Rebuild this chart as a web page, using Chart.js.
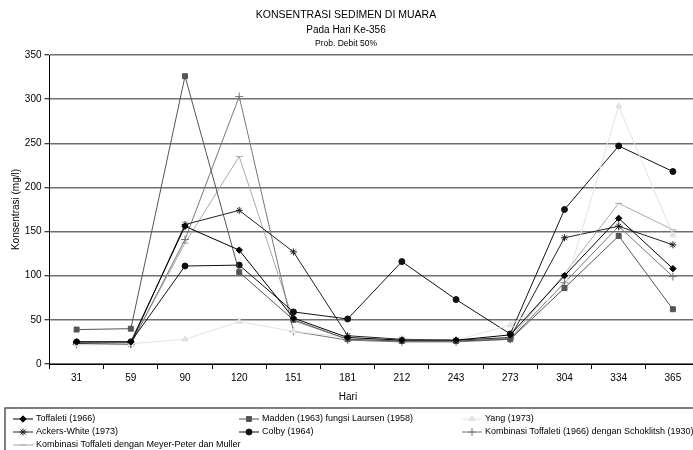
<!DOCTYPE html>
<html>
<head>
  <title>Konsentrasi Sedimen di Muara</title>
  <script src="https://cdn.jsdelivr.net/npm/chart.js@4.4.1/dist/chart.umd.min.js"></script>
  <style>
    html, body {
      margin: 0;
      padding: 0;
      background: #fff;
      overflow: hidden;
    }
    #wrap {
      width: 705px;
      height: 450px;
    }
  </style>
</head>
<body>
  <div id="wrap">
    <canvas id="chart" width="705" height="450"></canvas>
  </div>
  <script>
    // Data
    var days = ['31', '59', '90', '120', '151', '181', '212', '243', '273', '304', '334', '365'];
    var toffaleti = [25, 25, 156, 129, 52, 30, 27, 27, 33, 100, 165, 108];
    var madden = [39, 40, 326, 104, 50, 28, 26, 26, 28, 86, 145, 62];
    var yang = [22, 23, 28, 48, 37, 30, 27, 27, 44, 85, 292, 146];
    var ackers = [23, 23, 158, 174, 127, 32, 28, 27, 30, 143, 156, 135];
    var colby = [25, 25, 111, 112, 59, 51, 116, 73, 34, 175, 247, 218];
    var schoklitsh = [22, 22, 141, 303, 37, 27, 25, 25, 28, 92, 156, 99];
    var meyer = [23, 23, 137, 235, 49, 28, 26, 26, 29, 102, 182, 152];

    var seriesNames = [
      'Toffaleti (1966)',
      'Madden (1963) fungsi Laursen (1958)',
      'Yang (1973)',
      'Ackers-White (1973)',
      'Colby (1964)',
      'Kombinasi Toffaleti (1966) dengan Schoklitsh (1930)',
      'Kombinasi Toffaleti dengan Meyer-Peter dan Muller'
    ];

    var titleLines = ['KONSENTRASI SEDIMEN DI MUARA', 'Pada Hari Ke-356', 'Prob. Debit 50%'];
    var xTitle = 'Hari';
    var yTicks = [0, 50, 100, 150, 200, 250, 300, 350];

    var FONT = '"Liberation Sans", Arial, sans-serif';

    function makeSet(label, data, color, style, radius, fill) {
      return {
        label: label,
        data: data,
        borderColor: color,
        backgroundColor: fill || color,
        borderWidth: 1,
        pointStyle: style,
        pointRadius: radius,
        pointBorderColor: color,
        pointBackgroundColor: fill || color,
        pointBorderWidth: 1,
        tension: 0
      };
    }

    var datasets = [
      makeSet(seriesNames[0], toffaleti, '#000000', 'rectRot', 3.2),
      makeSet(seriesNames[1], madden, '#555555', 'rect', 3.5),
      makeSet(seriesNames[2], yang, '#e2e2e2', 'triangle', 3.5),
      makeSet(seriesNames[3], ackers, '#222222', 'star', 3.5),
      makeSet(seriesNames[4], colby, '#111111', 'circle', 3),
      makeSet(seriesNames[5], schoklitsh, '#777777', 'cross', 4),
      makeSet(seriesNames[6], meyer, '#aaaaaa', 'line', 3.5)
    ];

    // titles, x axis title and the boxed three-column legend are drawn by hand
    var decorPlugin = {
      id: 'decor',
      afterDraw: function(chart) {
        var ctx = chart.ctx;
        ctx.save();
        ctx.fillStyle = '#000';
        ctx.textAlign = 'center';
        ctx.textBaseline = 'middle';
        ctx.font = '10.5px ' + FONT;
        ctx.fillText(titleLines[0], 346, 15);
        ctx.font = '10px ' + FONT;
        ctx.fillText(titleLines[1], 346, 30);
        ctx.font = '8.5px ' + FONT;
        ctx.fillText(titleLines[2], 346, 44);
        ctx.font = '10px ' + FONT;
        ctx.fillText(xTitle, 348, 397);

        // legend box
        ctx.strokeStyle = '#555';
        ctx.lineWidth = 1.5;
        ctx.strokeRect(5, 408, 700, 60);

        var colX = [13, 239, 462];
        var rowY = [419, 432, 445];
        ctx.textAlign = 'left';
        ctx.font = '9px ' + FONT;
        chart.data.datasets.forEach(function(ds, i) {
          var x = colX[i % 3];
          var y = rowY[Math.floor(i / 3)];
          ctx.strokeStyle = ds.borderColor;
          ctx.lineWidth = 1;
          ctx.beginPath();
          ctx.moveTo(x, y);
          ctx.lineTo(x + 20, y);
          ctx.stroke();
          ctx.fillStyle = ds.pointBackgroundColor;
          ctx.strokeStyle = ds.pointBorderColor;
          Chart.helpers.drawPoint(ctx, {
            pointStyle: ds.pointStyle,
            radius: ds.pointRadius,
            rotation: 0,
            borderWidth: 1
          }, x + 10, y);
          ctx.fillStyle = '#000';
          ctx.fillText(ds.label, x + 23, y);
        });
        ctx.restore();
      }
    };

    var chart = new Chart(document.getElementById('chart').getContext('2d'), {
      type: 'line',
      data: {
        labels: days,
        datasets: datasets
      },
      options: {
        responsive: false,
        devicePixelRatio: 1,
        animation: false,
        layout: {
          padding: { top: 55, left: 10, right: 0, bottom: 46 }
        },
        plugins: {
          legend: { display: false },
          title: { display: false },
          tooltip: { enabled: false }
        },
        scales: {
          x: {
            type: 'category',
            offset: true,
            afterFit: function(s) { s.height = 40; },
            grid: {
              offset: true,
              drawOnChartArea: false,
              drawTicks: true,
              tickLength: 5,
              color: '#000'
            },
            border: { display: true, color: '#000', width: 1 },
            ticks: {
              color: '#000',
              font: { family: FONT, size: 10 },
              maxRotation: 0,
              autoSkip: false
            }
          },
          y: {
            min: 0,
            max: 350,
            afterFit: function(s) { s.width = 39.5; },
            afterBuildTicks: function(s) {
              s.ticks = yTicks.map(function(v) { return { value: v }; });
            },
            grid: {
              color: '#707070',
              lineWidth: 1.5,
              drawTicks: true,
              tickLength: 5,
              tickColor: '#000',
              tickWidth: 1
            },
            border: { display: true, color: '#000', width: 1 },
            ticks: {
              color: '#000',
              font: { family: FONT, size: 10 },
              padding: 3
            },
            title: {
              display: true,
              text: 'Konsentrasi (mg/l)',
              color: '#000',
              font: { family: FONT, size: 10 },
              padding: 0
            }
          }
        }
      },
      plugins: [decorPlugin]
    });
  </script>
</body>
</html>
